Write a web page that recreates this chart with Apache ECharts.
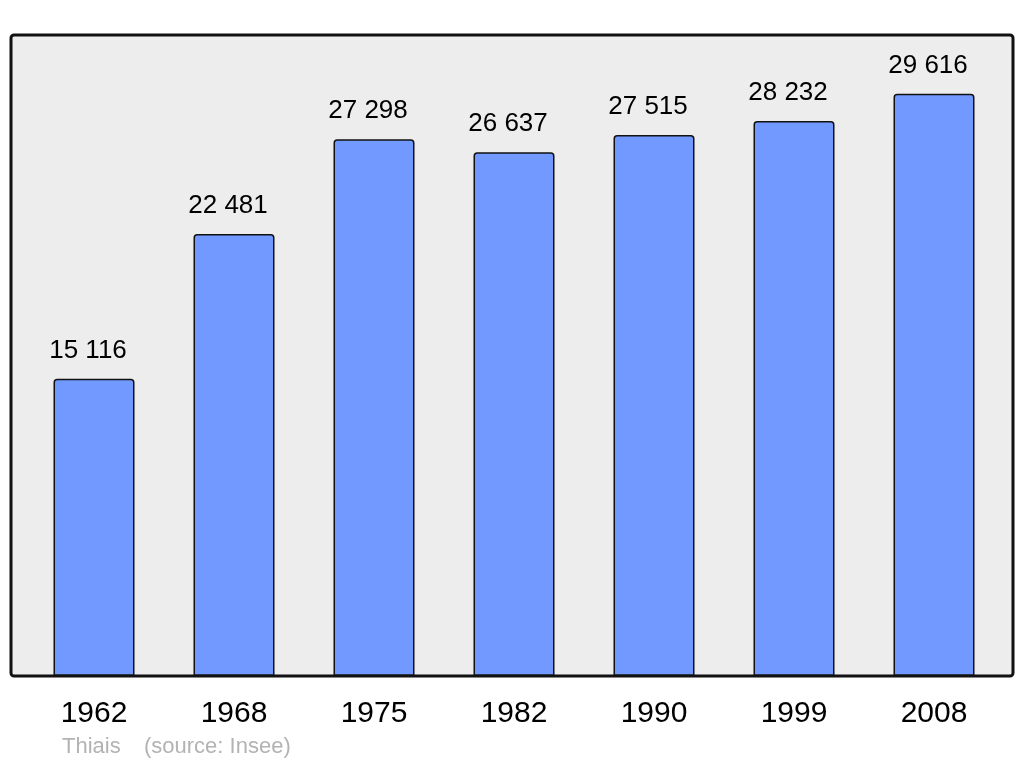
<!DOCTYPE html>
<html><head><meta charset="utf-8">
<script src="https://cdn.jsdelivr.net/npm/echarts@6/dist/echarts.min.js"></script>
<style>html,body{margin:0;padding:0;background:#fff}#c{width:1024px;height:765px}</style>
</head><body><div id="c"></div>
<script>
const categories = ['1962','1968','1975','1982','1990','1999','2008'];
const population = [15116, 22481, 27298, 26637, 27515, 28232, 29616];
const footerPlace = 'Thiais';
const footerSource = '(source: Insee)';

function fmt(v){ return String(v).replace(/\B(?=(\d{3})+(?!\d))/g, ' '); }

const chart = echarts.init(document.getElementById('c'));
chart.setOption({
  animation: false,
  grid: { left: 24, right: 20, top: 35, bottom: 89 },
  xAxis: {
    type: 'category', data: categories,
    axisLine: { show: false }, axisTick: { show: false },
    axisLabel: { fontFamily: 'Liberation Sans', fontSize: 30, color: '#000', margin: 23 }
  },
  yAxis: {
    type: 'value', min: 0, max: 32600,
    show: false, splitLine: { show: false }
  },
  series: [{
    type: 'bar', data: population, barWidth: 81, z: 5,
    itemStyle: { color: '#7199ff', borderColor: '#111', borderWidth: 1.5, borderRadius: [3,3,0,0] },
    label: { show: true, position: 'top', distance: 15, offset: [-6, 0], fontFamily: 'Liberation Sans', fontSize: 26, color: '#000',
      formatter: p => fmt(p.value) }
  }],
  graphic: [
    { type: 'rect', z: 0, shape: { x: 11, y: 35, width: 1002, height: 641, r: 3 },
      style: { fill: '#ededed', stroke: null } },
    { type: 'rect', z: 100, shape: { x: 11, y: 35, width: 1002, height: 641, r: 3 },
      style: { fill: 'none', stroke: '#111', lineWidth: 3 } },
    { type: 'text', z: 100, left: 62, top: 736, style: { text: footerPlace, fontFamily: 'Liberation Sans', fontSize: 22, fill: '#b3b3b3' } },
    { type: 'text', z: 100, left: 144, top: 736, style: { text: footerSource, fontFamily: 'Liberation Sans', fontSize: 22, fill: '#b3b3b3' } }
  ]
});
</script></body></html>
